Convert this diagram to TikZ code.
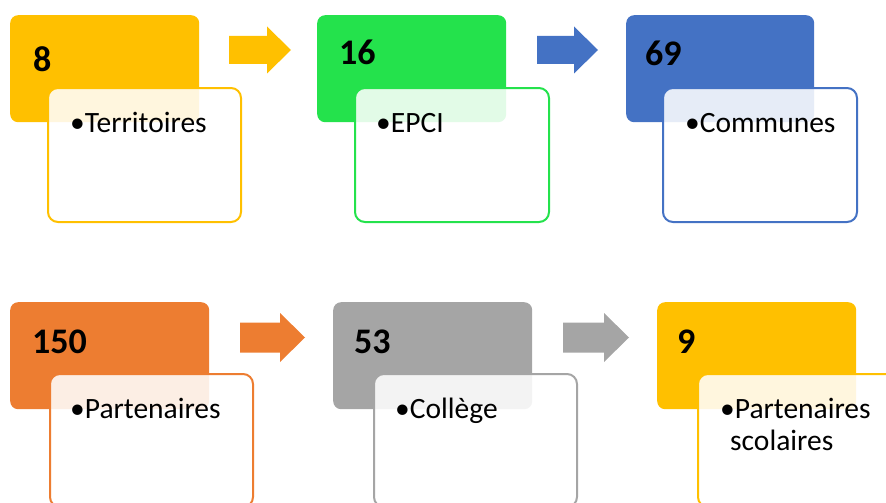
\documentclass[tikz,border=0pt]{standalone}
\usepackage{fontspec}
\setmainfont{Carlito}
\definecolor{cyellow}{HTML}{FFC000}
\definecolor{cgreen}{HTML}{24E24C}
\definecolor{cblue}{HTML}{4472C4}
\definecolor{corange}{HTML}{ED7D31}
\definecolor{cgray}{HTML}{A5A5A5}
\begin{document}
\begin{tikzpicture}[x=1pt,y=-1pt,
  numbox/.style={rounded corners=8pt, fill=#1, draw=none, inner sep=0pt, anchor=north west},
  itembox/.style={rounded corners=10pt, draw=#1, line width=2pt, fill=white, fill opacity=0.87, inner sep=0pt, anchor=north west},
  numtext/.style={font=\bfseries\fontsize{36}{40}\selectfont, inner sep=0pt, anchor=base west},
  itemtext/.style={font=\fontsize{29.5}{34}\selectfont, inner sep=0pt, anchor=base west},
  pics/blockarrow/.style n args={5}{code={
    \fill[#5] (0,{-#2/2}) -- ({#1-#4},{-#2/2}) -- ({#1-#4},{-#3/2}) -- (#1,0)
      -- ({#1-#4},{#3/2}) -- ({#1-#4},{#2/2}) -- (0,{#2/2}) -- cycle;
  }}
]
\useasboundingbox (0,0) rectangle (886,503);
\clip (0,0) rectangle (886,503);

% ---- first row ----
\node[numbox=cyellow, minimum width=189pt, minimum height=107pt] (n1) at (10,15) {};
\node[itembox=cyellow, minimum width=193pt, minimum height=134pt] (b1) at (47,87) {};
\node[numtext] (v1) at (33,71) {8};
\node[itemtext] (t1) at (70,132) {•Territoires};

\pic (a1) at (229,50) {blockarrow={62}{28}{47}{24}{cyellow}};

\node[numbox=cgreen, minimum width=189pt, minimum height=107pt] (n2) at (317,15) {};
\node[itembox=cgreen, minimum width=194pt, minimum height=134pt] (b2) at (354,87) {};
\node[numtext] (v2) at (339,65) {16};
\node[itemtext] (t2) at (376,132) {•EPCI};

\pic (a2) at (537,50) {blockarrow={61}{28}{47}{24}{cblue}};

\node[numbox=cblue, minimum width=188pt, minimum height=107pt] (n3) at (626,15) {};
\node[itembox=cblue, minimum width=194pt, minimum height=134pt] (b3) at (662,87) {};
\node[numtext] (v3) at (645,66) {69};
\node[itemtext] (t3) at (685,132) {•Communes};

% ---- second row ----
\node[numbox=corange, minimum width=199pt, minimum height=107pt] (n4) at (10,302) {};
\node[itembox=corange, minimum width=203pt, minimum height=133pt] (b4) at (49,373) {};
\node[numtext] (v4) at (32,353) {150};
\node[itemtext] (t4) at (70,418) {•Partenaires};

\pic (a4) at (240,337.5) {blockarrow={65}{30}{49}{25}{corange}};

\node[numbox=cgray, minimum width=199pt, minimum height=107pt] (n5) at (333,302) {};
\node[itembox=cgray, minimum width=203pt, minimum height=133pt] (b5) at (373,373) {};
\node[numtext] (v5) at (354,353) {53};
\node[itemtext] (t5) at (395,418) {•Collège};

\pic (a5) at (563,337.5) {blockarrow={66}{30}{49}{25}{cgray}};

\node[numbox=cyellow, minimum width=199pt, minimum height=107pt] (n6) at (657,302) {};
\node[itembox=cyellow, minimum width=203pt, minimum height=133pt] (b6) at (697,373) {};
\node[numtext] (v6) at (677,353) {9};
\node[itemtext] (t6) at (720,418) {•Partenaires};
\node[itemtext] (t6b) at (730,450) {scolaires};
\end{tikzpicture}
\end{document}
